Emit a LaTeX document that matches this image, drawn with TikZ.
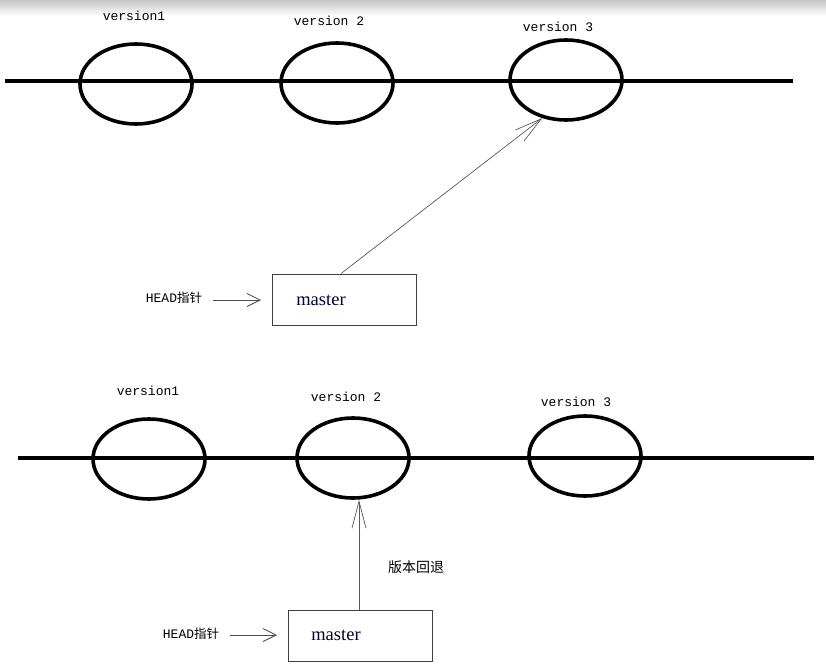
\documentclass[tikz,border=0pt]{standalone}
\usepackage{fontspec}
\setmainfont{Liberation Serif}
\newfontfamily\cjk{Noto Sans CJK SC}
\newfontfamily\monof{Liberation Mono}
\usetikzlibrary{shapes.geometric,arrows.meta}
\begin{document}
\begin{tikzpicture}[x=1pt,y=-1pt,
  ver/.style={draw=black,line width=3.6pt,ellipse,minimum width=112pt,minimum height=80pt,inner sep=0pt},
  axis/.style={line width=3.4pt,black},
  vlabel/.style={font=\monof\fontsize{13}{13}\selectfont,inner sep=0pt},
  branch/.style={draw=black!75,line width=0.9pt,minimum width=144pt,minimum height=51pt,inner sep=0pt},
  btext/.style={font=\fontsize{18.5}{18.5}\selectfont,inner sep=0pt,text=black!80!blue},
  headtxt/.style={inner sep=0pt,font=\monof\fontsize{13}{13}\selectfont},
  ptr/.style={draw=black!65,line width=0.7pt,-{Straight Barb[length=27pt,width=14pt,line width=0.7pt]}},
  hptr/.style={draw=black!70,line width=0.8pt,-{Straight Barb[length=13pt,width=13pt,line width=0.8pt]}}
]
\useasboundingbox (0,0) rectangle (826,666);
\fill[white] (0,0) rectangle (826,666);
\shade[top color=black!22,bottom color=white] (0,0) rectangle (826,16);

% ---------- top diagram ----------
\coordinate (tl) at (5,81);
\coordinate (tr) at (793,81);
\draw[axis] (tl) -- (tr);
\node[ver] (a1) at (136,84) {};
\node[ver] (a2) at (337,83) {};
\node[ver] (a3) at (566,80) {};
\node[vlabel] (la1) at (134,16) {version1};
\node[vlabel] (la2) at (329,21) {version 2};
\node[vlabel] (la3) at (558,27) {version 3};

\node[branch] (m1) at (344,299.5) {};
\node[btext] (mt1) at (321,300) {master};
\node[headtxt] (h1) at (174,298) {HEAD{\cjk\fontsize{12.5}{12.5}\selectfont 指针}};
\coordinate (h1s) at (213,300);
\coordinate (h1e) at (261,300);
\draw[hptr] (h1s) -- (h1e);
\draw[ptr] ([xshift=-3pt]m1.north) -- (a3.238);

% ---------- bottom diagram ----------
\coordinate (bl) at (18,458);
\coordinate (br) at (814,458);
\draw[axis] (bl) -- (br);
\node[ver] (b1) at (149,459) {};
\node[ver] (b2) at (353,458) {};
\node[ver] (b3) at (585,456) {};
\node[vlabel] (lb1) at (148,391) {version1};
\node[vlabel] (lb2) at (346,397) {version 2};
\node[vlabel] (lb3) at (576,402) {version 3};

\node[branch] (m2) at (360,635.5) {};
\node[btext] (mt2) at (336,635) {master};
\node[headtxt] (h2) at (191,634) {HEAD{\cjk\fontsize{12.5}{12.5}\selectfont 指针}};
\coordinate (h2s) at (230,635);
\coordinate (h2e) at (277,635);
\draw[hptr] (h2s) -- (h2e);
\coordinate (tip) at ([xshift=-1pt]m2.north |- b2.south);
\draw[ptr] ([xshift=-1pt]m2.north) -- (tip);
\node[inner sep=0pt,font=\cjk\fontsize{14}{14}\selectfont] (rb) at (416,567) {版本回退};
\end{tikzpicture}
\end{document}
